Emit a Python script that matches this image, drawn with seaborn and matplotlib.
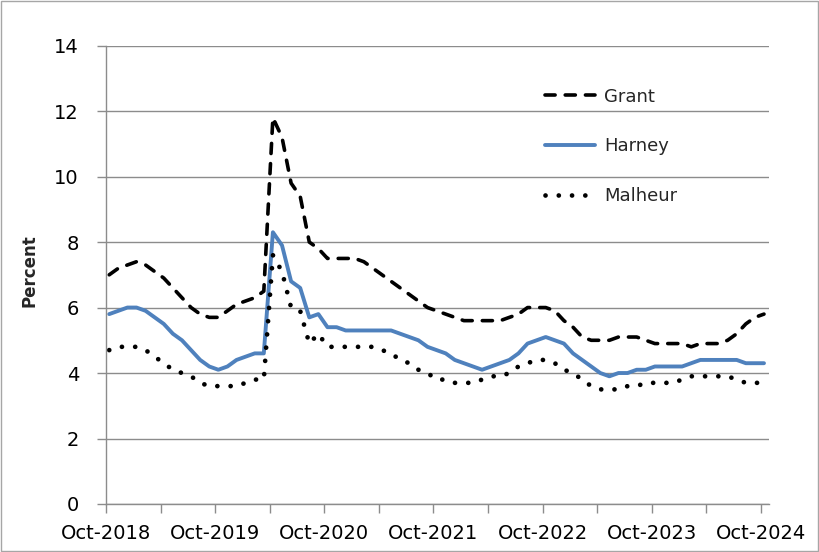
import numpy as np
import pandas as pd
import seaborn as sns
import matplotlib.pyplot as plt
from matplotlib.patches import Rectangle

# monthly unemployment rate (percent), Oct-2018 .. Oct-2024
grant = [7.0, 7.2, 7.3, 7.4, 7.3, 7.1, 6.9, 6.6, 6.3, 6.0,
         5.8, 5.7, 5.7, 5.9, 6.1, 6.2, 6.3, 6.5, 11.8, 11.2,
         9.8, 9.4, 8.0, 7.8, 7.5, 7.5, 7.5, 7.5, 7.4, 7.2,
         7.0, 6.8, 6.6, 6.4, 6.2, 6.0, 5.9, 5.8, 5.7, 5.6,
         5.6, 5.6, 5.6, 5.6, 5.7, 5.8, 6.0, 6.0, 6.0, 5.9,
         5.6, 5.4, 5.1, 5.0, 5.0, 5.0, 5.1, 5.1, 5.1, 5.0,
         4.9, 4.9, 4.9, 4.9, 4.8, 4.9, 4.9, 4.9, 5.0, 5.2,
         5.5, 5.7, 5.8]
harney = [5.8, 5.9, 6.0, 6.0, 5.9, 5.7, 5.5, 5.2, 5.0, 4.7,
          4.4, 4.2, 4.1, 4.2, 4.4, 4.5, 4.6, 4.6, 8.3, 7.9,
          6.8, 6.6, 5.7, 5.8, 5.4, 5.4, 5.3, 5.3, 5.3, 5.3,
          5.3, 5.3, 5.2, 5.1, 5.0, 4.8, 4.7, 4.6, 4.4, 4.3,
          4.2, 4.1, 4.2, 4.3, 4.4, 4.6, 4.9, 5.0, 5.1, 5.0,
          4.9, 4.6, 4.4, 4.2, 4.0, 3.9, 4.0, 4.0, 4.1, 4.1,
          4.2, 4.2, 4.2, 4.2, 4.3, 4.4, 4.4, 4.4, 4.4, 4.4,
          4.3, 4.3, 4.3]
malheur = [4.7, 4.8, 4.8, 4.8, 4.7, 4.5, 4.3, 4.1, 4.0, 3.9,
           3.7, 3.6, 3.6, 3.6, 3.6, 3.7, 3.8, 3.8, 7.6, 7.1,
           6.0, 5.9, 4.9, 5.2, 4.8, 4.8, 4.8, 4.8, 4.8, 4.8,
           4.7, 4.6, 4.4, 4.3, 4.1, 4.0, 3.8, 3.8, 3.7, 3.7,
           3.7, 3.8, 3.9, 3.9, 4.0, 4.2, 4.3, 4.4, 4.4, 4.3,
           4.1, 4.0, 3.8, 3.6, 3.5, 3.5, 3.5, 3.6, 3.6, 3.7,
           3.7, 3.7, 3.7, 3.8, 3.9, 3.9, 3.9, 3.9, 3.9, 3.8,
           3.7, 3.7, 3.7]
year_labels = ["Oct-2018", "Oct-2019", "Oct-2020", "Oct-2021",
               "Oct-2022", "Oct-2023", "Oct-2024"]

df = pd.DataFrame({"month": np.arange(len(grant)),
                   "Grant": grant, "Harney": harney, "Malheur": malheur})

sns.set_style("white")
plt.rcParams['font.family'] = ['DejaVu Sans']

fig = plt.figure(figsize=(8.2, 5.52), dpi=100)
ax = fig.add_axes([0.1293, 0.087, 0.8085, 0.8303])

sns.lineplot(data=df, x="month", y="Grant", ax=ax, color="black", linewidth=2.6,
             linestyle=(0, (2.8, 2.8)), label="Grant")
sns.lineplot(data=df, x="month", y="Harney", ax=ax, color="#4F81BD", linewidth=2.8,
             label="Harney")
sns.lineplot(data=df, x="month", y="Malheur", ax=ax, color="black", linewidth=3.4,
             linestyle=(0, (0.01, 2.8)), label="Malheur")
# round ends for the dashes and dots
for line in ax.get_lines():
    line.set_dash_capstyle("round")

ax.set_ylim(0, 14)
ax.set_yticks(np.arange(0, 15, 2))
ax.set_xlim(-0.35, 72.55)
xt = np.arange(0, 73, 6) - 0.35
ax.set_xticks(xt)
ax.set_xticklabels([year_labels[k // 2] if k % 2 == 0 else "" for k in range(len(xt))])
ax.set_xlabel("")

gray = "#8c8c8c"
ax.yaxis.grid(True, color=gray, linewidth=1.0)
ax.xaxis.grid(False)
for s in ["top", "right"]:
    ax.spines[s].set_visible(False)
for s in ["left", "bottom"]:
    ax.spines[s].set_color(gray)
    ax.spines[s].set_linewidth(1.0)
ax.tick_params(axis="both", length=6.5, width=1.0, color=gray, labelsize=14,
               labelcolor="black", direction="out")
ax.tick_params(axis="y", pad=13, left=True)
ax.tick_params(axis="x", pad=8, bottom=True)

ax.set_ylabel("Percent", fontweight="bold", fontsize=12)
ax.yaxis.set_label_coords(-0.115, 0.51)
ax.yaxis.label.set_verticalalignment("center")

ax.legend(loc="upper left", bbox_to_anchor=(0.662, 0.908), frameon=False,
          fontsize=13, handlelength=2.8, handletextpad=0.5, labelspacing=1.75,
          borderaxespad=0, borderpad=0)

fig.add_artist(Rectangle((0.001, 0.001), 0.997, 0.997, transform=fig.transFigure,
                         fill=False, edgecolor="#a6a6a6", linewidth=1.0))

fig.savefig("out.png", dpi=100)
